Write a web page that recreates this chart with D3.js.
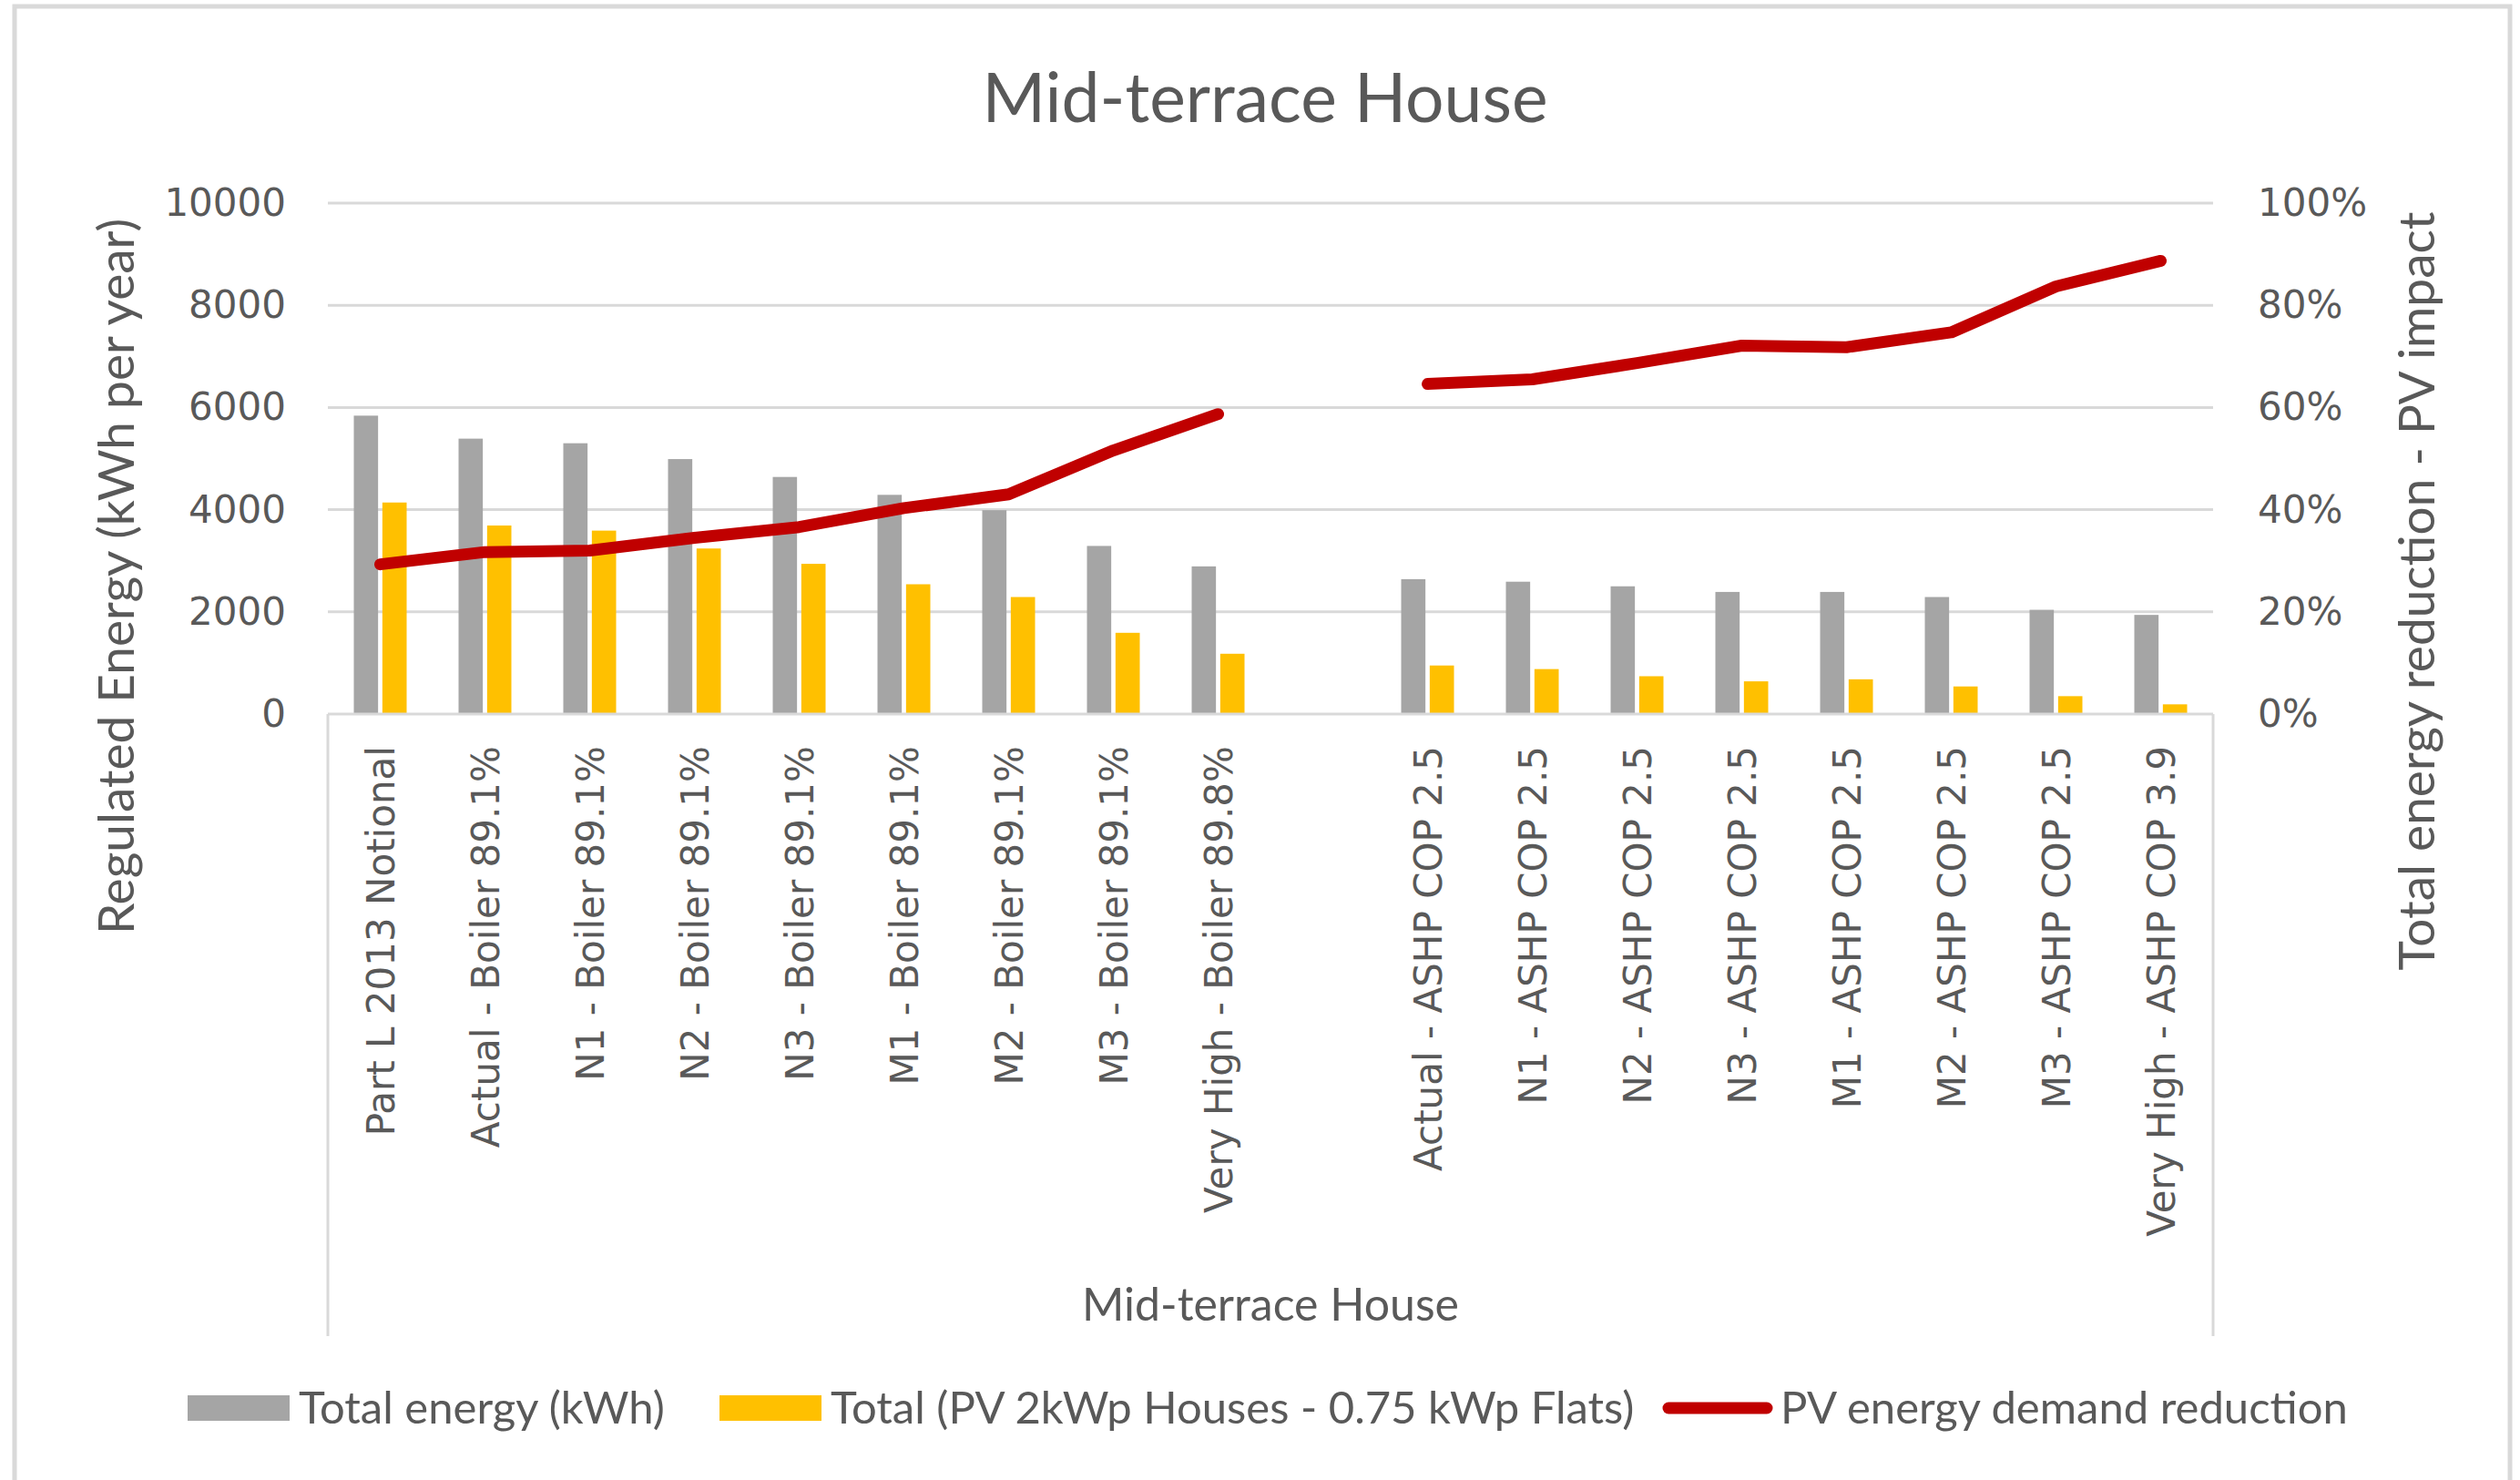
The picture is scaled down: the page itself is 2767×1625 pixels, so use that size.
<!DOCTYPE html>
<html>
<head>
<meta charset="utf-8">
<script src="https://cdn.jsdelivr.net/npm/d3@7"></script>
<style>
  body { margin: 0; background: #fff; }
  text { fill: #595959; }
</style>
</head>
<body>
<div id="chart-container"></div>
<script>
// chart values
const categories = [
  "Part L 2013 Notional", "Actual - Boiler 89.1%", "N1 - Boiler 89.1%", "N2 - Boiler 89.1%",
  "N3 - Boiler 89.1%", "M1 - Boiler 89.1%", "M2 - Boiler 89.1%", "M3 - Boiler 89.1%",
  "Very High - Boiler 89.8%", "",
  "Actual - ASHP COP 2.5", "N1 - ASHP COP 2.5", "N2 - ASHP COP 2.5", "N3 - ASHP COP 2.5",
  "M1 - ASHP COP 2.5", "M2 - ASHP COP 2.5", "M3 - ASHP COP 2.5", "Very High - ASHP COP 3.9"
];
const totalEnergy = [5840, 5390, 5300, 4990, 4640, 4290, 3990, 3290, 2890, null,
                     2640, 2590, 2500, 2390, 2390, 2290, 2040, 1940];
const pvTotal = [4140, 3690, 3590, 3240, 2940, 2540, 2290, 1590, 1180, null,
                 950, 880, 740, 640, 680, 540, 350, 190];
const pvReduction = [0.293, 0.317, 0.320, 0.345, 0.366, 0.403, 0.430, 0.516, 0.587, null,
                     0.646, 0.655, 0.687, 0.721, 0.718, 0.747, 0.837, 0.887];
const leftTicks = [0, 2000, 4000, 6000, 8000, 10000];
const rightTicks = [0, 0.2, 0.4, 0.6, 0.8, 1];
const seriesNames = ["Total energy (kWh)", "Total (PV 2kWp Houses - 0.75 kWp Flats)", "PV energy demand reduction"];

const width = 2767;
const height = 1625;
const plot = { left: 360, right: 2430, top: 223, bottom: 784 };
const grey = "#A5A5A5", gold = "#FFC000", red = "#C00000", grid = "#D9D9D9";
const labelFont = "'DejaVu Sans', Verdana, sans-serif";
const titleFont = "Lato, 'Open Sans', sans-serif";

const svg = d3.select("#chart-container")
    .append("svg")
    .attr("width", width)
    .attr("height", height);

// outer chart border
svg.append("rect")
    .attr("x", 16).attr("y", 7)
    .attr("width", 2740).attr("height", 1640)
    .attr("fill", "#fff")
    .attr("stroke", grid)
    .attr("stroke-width", 5);

const xScale = d3.scaleBand()
    .domain(d3.range(categories.length))
    .range([plot.left, plot.right])
    .padding(0);

const inner = d3.scaleBand()
    .domain(["total", "pv"])
    .range([-29, 29])
    .paddingInner(0.15);

const yLeft = d3.scaleLinear().domain([0, 10000]).range([plot.bottom, plot.top]);
const yRight = d3.scaleLinear().domain([0, 1]).range([plot.bottom, plot.top]);

// gridlines
svg.append("g")
    .selectAll("line")
    .data(leftTicks.slice(1))
    .enter()
    .append("line")
    .attr("x1", plot.left).attr("x2", plot.right)
    .attr("y1", d => yLeft(d)).attr("y2", d => yLeft(d))
    .attr("stroke", grid)
    .attr("stroke-width", 3);

// left axis
const leftAxis = svg.append("g")
    .attr("transform", `translate(${plot.left - 46},0)`)
    .call(d3.axisLeft(yLeft).tickValues(leftTicks).tickFormat(d3.format("d")).tickSize(0).tickPadding(0));
leftAxis.select(".domain").remove();
leftAxis.selectAll("text")
    .attr("font-family", labelFont)
    .attr("font-size", 42)
    .attr("fill", "#595959");

// right axis
const rightAxis = svg.append("g")
    .attr("transform", `translate(${plot.right + 49},0)`)
    .call(d3.axisRight(yRight).tickValues(rightTicks).tickFormat(d3.format(".0%")).tickSize(0).tickPadding(0));
rightAxis.select(".domain").remove();
rightAxis.selectAll("text")
    .attr("font-family", labelFont)
    .attr("font-size", 42)
    .attr("fill", "#595959");

// bars
const barData = [];
categories.forEach((c, i) => {
  if (totalEnergy[i] != null) barData.push({ i: i, key: "total", v: totalEnergy[i] });
  if (pvTotal[i] != null) barData.push({ i: i, key: "pv", v: pvTotal[i] });
});

svg.selectAll(".bar")
    .data(barData)
    .enter()
    .append("rect")
    .attr("class", "bar")
    .attr("x", d => xScale(d.i) + xScale.bandwidth() / 2 + inner(d.key))
    .attr("y", d => yLeft(d.v))
    .attr("width", inner.bandwidth())
    .attr("height", d => yLeft(0) - yLeft(d.v))
    .attr("fill", d => d.key === "total" ? grey : gold);

// category axis line and outer ticks
svg.append("line")
    .attr("x1", plot.left).attr("x2", plot.right)
    .attr("y1", plot.bottom).attr("y2", plot.bottom)
    .attr("stroke", grid).attr("stroke-width", 3);
svg.selectAll(".cat-edge")
    .data([plot.left, plot.right])
    .enter()
    .append("line")
    .attr("class", "cat-edge")
    .attr("x1", d => d).attr("x2", d => d)
    .attr("y1", plot.bottom).attr("y2", 1467)
    .attr("stroke", grid).attr("stroke-width", 3);

// category labels
svg.append("g")
    .selectAll("text")
    .data(categories)
    .enter()
    .append("text")
    .attr("transform", (d, i) => `translate(${xScale(i) + xScale.bandwidth() / 2},819) rotate(-90)`)
    .attr("dy", "0.36em")
    .attr("text-anchor", "end")
    .attr("font-family", labelFont)
    .attr("font-size", 42)
    .text(d => d);

// group label
svg.append("text")
    .attr("x", (plot.left + plot.right) / 2)
    .attr("y", 1450)
    .attr("text-anchor", "middle")
    .attr("font-family", titleFont)
    .attr("font-size", 50)
    .text("Mid-terrace House");

// reduction line
const line = d3.line()
    .defined(d => d != null)
    .x((d, i) => xScale(i) + xScale.bandwidth() / 2)
    .y(d => yRight(d));

svg.append("path")
    .datum(pvReduction)
    .attr("d", line)
    .attr("fill", "none")
    .attr("stroke", red)
    .attr("stroke-width", 13)
    .attr("stroke-linejoin", "round")
    .attr("stroke-linecap", "round");

// title
svg.append("text")
    .attr("x", 1389)
    .attr("y", 134)
    .attr("text-anchor", "middle")
    .attr("font-family", titleFont)
    .attr("font-size", 75)
    .text("Mid-terrace House");

// axis titles
svg.append("text")
    .attr("transform", "translate(147,633) rotate(-90)")
    .attr("text-anchor", "middle")
    .attr("font-family", titleFont)
    .attr("font-size", 55)
    .text("Regulated Energy (kWh per year)");

svg.append("text")
    .attr("transform", "translate(2673,649) rotate(-90)")
    .attr("text-anchor", "middle")
    .attr("font-family", titleFont)
    .attr("font-size", 55)
    .text("Total energy reduction - PV impact");

// legend
const legendX = [206, 790, 1826];
const legend = svg.append("g");
seriesNames.forEach((name, k) => {
  const g = legend.append("g").attr("transform", `translate(${legendX[k]},1546)`);
  if (k < 2) {
    g.append("rect")
        .attr("x", 0).attr("y", -14)
        .attr("width", 112).attr("height", 28)
        .attr("fill", k === 0 ? grey : gold);
  } else {
    g.append("line")
        .attr("x1", 6).attr("x2", 114)
        .attr("y1", 0).attr("y2", 0)
        .attr("stroke", red)
        .attr("stroke-width", 13)
        .attr("stroke-linecap", "round");
  }
  g.append("text")
      .attr("x", k < 2 ? 122 : 129)
      .attr("y", 0)
      .attr("dy", "0.35em")
      .attr("font-family", titleFont)
      .attr("font-size", 49)
      .text(name);
});
</script>
</body>
</html>
